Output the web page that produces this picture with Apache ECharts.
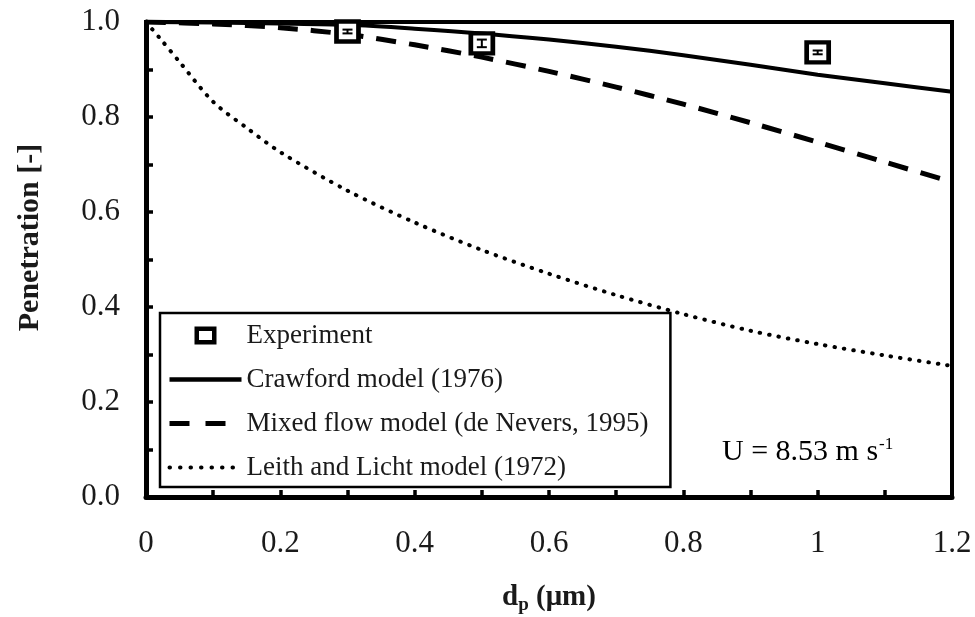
<!DOCTYPE html>
<html>
<head>
<meta charset="utf-8">
<title>Penetration vs particle diameter</title>
<script src="https://cdn.jsdelivr.net/npm/echarts@6/dist/echarts.min.js"></script>
<style>
  html, body { margin: 0; padding: 0; background: #fff; }
  #chart { width: 975px; height: 617px; }
</style>
</head>
<body>
<div id="chart"></div>
<script>
// Particle diameter (µm) sampled along the model curves
const crawfordX = [0, 0.1, 0.2, 0.3, 0.4, 0.5, 0.6, 0.7, 0.8, 0.9, 1.0, 1.1, 1.2];
const crawfordY = [1.0, 0.999, 0.997, 0.994, 0.986, 0.976, 0.963, 0.948, 0.930, 0.910, 0.889, 0.871, 0.853];

const mixedX = [0, 0.1, 0.2, 0.3, 0.4, 0.5, 0.6, 0.7, 0.8, 0.9, 1.0, 1.1, 1.2];
const mixedY = [1.0, 0.996, 0.988, 0.974, 0.952, 0.926, 0.896, 0.863, 0.827, 0.788, 0.747, 0.705, 0.663];

const leithX = [0, 0.02, 0.05, 0.1, 0.15, 0.2, 0.3, 0.4, 0.5, 0.6, 0.7, 0.8, 0.9, 1.0, 1.1, 1.2];
const leithY = [1.0, 0.967, 0.916, 0.832, 0.777, 0.726, 0.645, 0.578, 0.520, 0.470, 0.425, 0.385, 0.350, 0.322, 0.298, 0.276];

// Measured penetration with its spread
const expX = [0.3, 0.5, 1.0];
const expY = [0.980, 0.955, 0.936];
const expErr = [0.004, 0.008, 0.004];

const seriesNames = [
  'Experiment',
  'Crawford model (1976)',
  'Mixed flow model (de Nevers, 1995)',
  'Leith and Licht model (1972)'
];

const xTicks = [0, 0.2, 0.4, 0.6, 0.8, 1, 1.2];
const yTicks = [0, 0.2, 0.4, 0.6, 0.8, 1.0];

const zip = (xs, ys) => xs.map((x, i) => [x, ys[i]]);

const FONT = '"Liberation Serif", "Times New Roman", serif';
const INK = '#1a1a1a';

// Hollow square centred in a 72x20 legend slot (corner moveTo points pin the extent)
const hollowSquareIcon = 'path://M0,0 M72,20 M25,1 H47 V19 H25 Z M29.5,5.5 V14.5 H42.5 V5.5 Z';
// Invisible marker so model lines show only their stroke in the legend
const hiddenMarker = { color: 'rgba(0,0,0,0)', borderWidth: 0, opacity: 0 };

const chart = echarts.init(document.getElementById('chart'), null, { renderer: 'canvas' });

const axisCommon = {
  axisLine: { show: true, onZero: false, lineStyle: { color: '#000', width: 5 } },
  axisTick: { show: true, inside: true, length: 7, lineStyle: { color: '#000', width: 3.5 } },
  minorTick: { show: true, splitNumber: 2, length: 7, lineStyle: { color: '#000', width: 3.5 } },
  splitLine: { show: false },
  minorSplitLine: { show: false }
};

chart.setOption({
  animation: false,
  backgroundColor: '#fff',
  grid: {
    left: 146, right: 23, top: 22, bottom: 120,
    outerBoundsMode: 'none',
    containLabel: false,
    show: true, borderColor: '#000', borderWidth: 4, backgroundColor: 'transparent'
  },
  xAxis: Object.assign({
    type: 'value',
    min: xTicks[0], max: xTicks[xTicks.length - 1], interval: 0.2,
    axisLabel: {
      margin: 31, color: INK, fontFamily: FONT, fontSize: 31,
      formatter: v => String(parseFloat(v.toFixed(1)))
    },
    name: '{d|d}{p|p}{d| (μm)}',
    nameLocation: 'middle',
    nameGap: 83,
    nameTextStyle: {
      rich: {
        d: { fontFamily: FONT, fontSize: 29, fontWeight: 'bold', color: INK },
        p: { fontFamily: FONT, fontSize: 19, fontWeight: 'bold', color: INK, padding: [16, 0, 0, 0] }
      }
    }
  }, axisCommon),
  yAxis: Object.assign({
    type: 'value',
    min: yTicks[0], max: yTicks[yTicks.length - 1], interval: 0.2,
    axisLabel: {
      margin: 26, color: INK, fontFamily: FONT, fontSize: 31,
      formatter: v => v.toFixed(1)
    },
    name: 'Penetration [-]',
    nameLocation: 'middle',
    nameRotate: 90,
    nameGap: 101,
    nameTextStyle: {
      fontFamily: FONT, fontSize: 30, fontWeight: 'bold', color: INK,
      padding: [0, 0, 0, 44]
    }
  }, axisCommon),
  legend: {
    orient: 'vertical',
    left: 160, top: 313,
    padding: [9, 22, 6, 7],
    itemGap: 17,
    itemWidth: 72,
    itemHeight: 20,
    backgroundColor: '#fff',
    borderColor: '#000',
    borderWidth: 2.5,
    borderRadius: 0,
    selectedMode: false,
    textStyle: { fontFamily: FONT, fontSize: 27, color: INK, lineHeight: 27 },
    data: [
      { name: seriesNames[0], icon: hollowSquareIcon, itemStyle: { color: '#000', borderWidth: 0 } },
      { name: seriesNames[1], itemStyle: hiddenMarker, lineStyle: { width: 4.5, type: 'solid' } },
      { name: seriesNames[2], itemStyle: hiddenMarker, lineStyle: { width: 5, type: [20, 16] } },
      { name: seriesNames[3], itemStyle: hiddenMarker, lineStyle: { width: 4, type: [0.5, 10], cap: 'round' } }
    ]
  },
  series: [
    {
      name: seriesNames[1],
      type: 'line',
      data: zip(crawfordX, crawfordY),
      smooth: 0.3,
      symbol: 'none',
      lineStyle: { color: '#000', width: 4, type: 'solid' },
      z: 3
    },
    {
      name: seriesNames[2],
      type: 'line',
      data: zip(mixedX, mixedY),
      smooth: 0.3,
      symbol: 'none',
      lineStyle: { color: '#000', width: 5, type: [20, 13] },
      z: 3
    },
    {
      name: seriesNames[3],
      type: 'line',
      data: zip(leithX, leithY),
      smooth: 0.3,
      symbol: 'none',
      lineStyle: { color: '#000', width: 4, type: [0.5, 9], cap: 'round' },
      z: 3
    },
    {
      name: seriesNames[0],
      type: 'scatter',
      data: zip(expX, expY),
      symbol: 'rect',
      symbolSize: [22, 20],
      itemStyle: { color: '#fff', borderColor: '#000', borderWidth: 4.5, opacity: 1 },
      z: 5
    },
    {
      // error bars drawn on top of the experiment markers
      name: 'errors',
      type: 'custom',
      data: expX.map((x, i) => [x, expY[i] - expErr[i], expY[i] + expErr[i]]),
      renderItem: (params, api) => {
        const lo = api.coord([api.value(0), api.value(1)]);
        const hi = api.coord([api.value(0), api.value(2)]);
        const half = 5;
        const style = { stroke: '#000', lineWidth: 2 };
        return {
          type: 'group',
          children: [
            { type: 'line', shape: { x1: lo[0], y1: lo[1], x2: hi[0], y2: hi[1] }, style },
            { type: 'line', shape: { x1: lo[0] - half, y1: lo[1], x2: lo[0] + half, y2: lo[1] }, style },
            { type: 'line', shape: { x1: hi[0] - half, y1: hi[1], x2: hi[0] + half, y2: hi[1] }, style }
          ]
        };
      },
      z: 6,
      silent: true
    }
  ],
  graphic: [
    {
      type: 'text',
      left: 722,
      top: 436,
      style: {
        text: '{n|U = 8.53 m s}{s|-1}',
        rich: {
          n: { fontFamily: FONT, fontSize: 30, color: INK },
          s: { fontFamily: FONT, fontSize: 17, color: INK, padding: [0, 0, 15, 1] }
        }
      },
      z: 10
    }
  ]
});
</script>
</body>
</html>
